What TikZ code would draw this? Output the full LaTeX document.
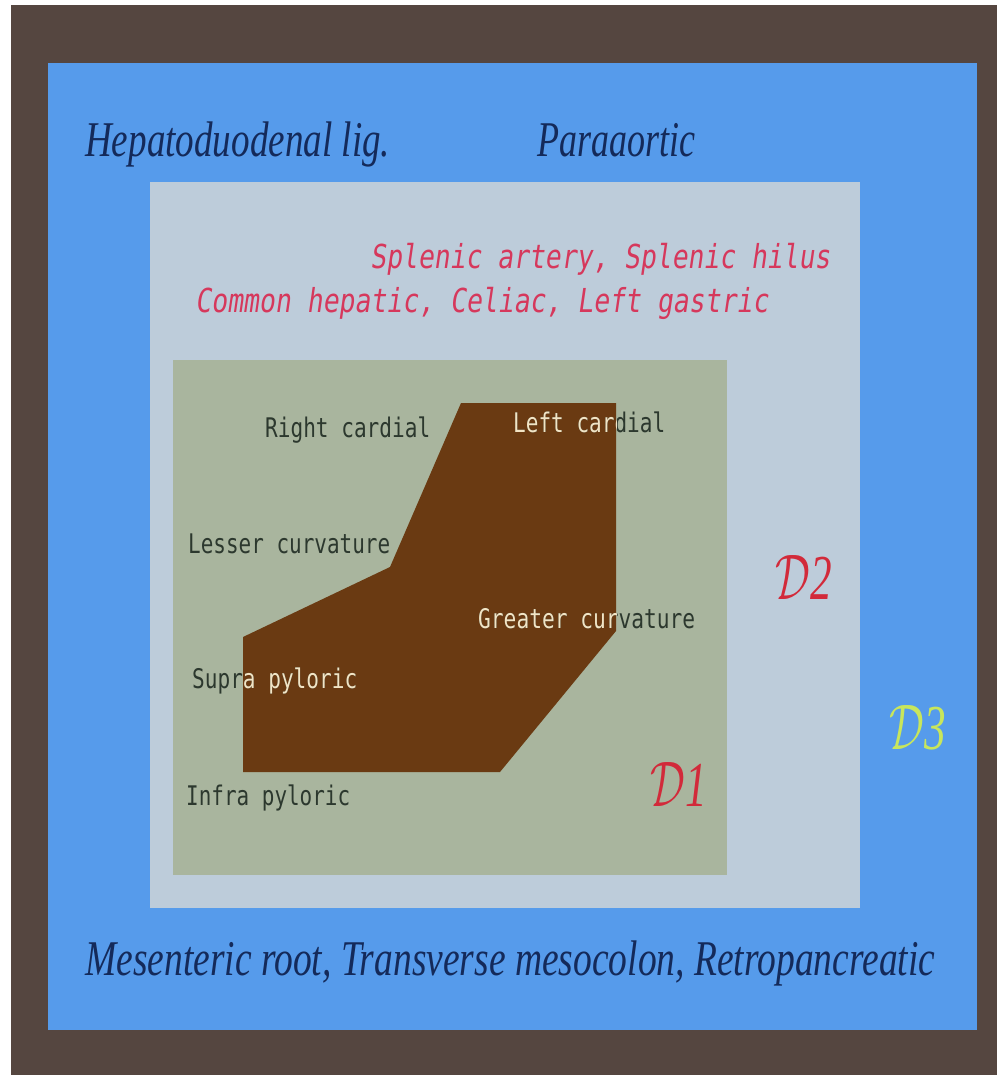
\documentclass[tikz,border=0pt]{standalone}
\usepackage{fontspec}
\usepackage{graphicx}
\setmainfont{Liberation Serif}
\newfontfamily\labfont{DejaVu Sans Mono}
\newfontfamily\vesfont[FakeSlant=0.18]{DejaVu Sans Mono}
% set a text box to a given width (in pt) while keeping its natural height
\newcommand\fitto[2]{\resizebox{#1pt}{\height}{#2}}
% calligraphic level letter followed by its number
\newcommand\lvl[1]{\fitto{57}{\resizebox{!}{44pt}{$\mathcal{D}$}\kern1pt\textit{#1}}}

\definecolor{frame}{HTML}{554640}
\definecolor{zoneDthree}{HTML}{569BEB}
\definecolor{zoneDtwo}{HTML}{BDCCDA}
\definecolor{zoneDone}{HTML}{A9B59E}
\definecolor{stomach}{HTML}{6A3A12}
\definecolor{navy}{HTML}{142A5A}
\definecolor{vessel}{HTML}{D6385C}
\definecolor{darklab}{HTML}{2C382E}
\definecolor{creamlab}{HTML}{F3E4C4}
\definecolor{dred}{HTML}{D22A3A}
\definecolor{dgreen}{HTML}{C8E65C}

\tikzset{
  region/.style={inner sep=0pt, anchor=base west, text=navy,
    font=\fontsize{50}{56}\selectfont\itshape},
  vessels/.style={inner sep=0pt, anchor=base west, text=vessel,
    font=\fontsize{33}{38}\selectfont\vesfont},
  station/.style={inner sep=0pt, anchor=base west, text=darklab,
    font=\fontsize{27}{31}\selectfont\labfont},
  onstomach/.style={station, text=creamlab},
  level/.style={inner sep=0pt, anchor=base,
    font=\fontsize{64}{70}\selectfont}
}

\begin{document}
\begin{tikzpicture}[x=1pt,y=-1pt]
\useasboundingbox (0,0) rectangle (997,1075);
\fill[white] (0,0) rectangle (997,1075);
\fill[frame] (11,5) rectangle (997,1075);

% nested dissection levels
\fill[zoneDthree] (48,63) rectangle (977,1030);
\fill[zoneDtwo] (150,182) rectangle (860,908);
\fill[zoneDone] (173,360) rectangle (727,875);

% stomach outline
\coordinate (s1) at (461,403);
\coordinate (s2) at (616,403);
\coordinate (s3) at (616,631);
\coordinate (s4) at (500,772);
\coordinate (s5) at (243,772);
\coordinate (s6) at (243,637);
\coordinate (s7) at (390,567);
\fill[stomach] (s1) -- (s2) -- (s3) -- (s4) -- (s5) -- (s6) -- (s7) -- cycle;

% D3 stations
\node[region] (hep) at (85,157) {\fitto{305}{Hepatoduodenal lig.}};
\node[region] (para) at (537,157) {\fitto{158}{Paraaortic}};
\node[region] (mes) at (85,975) {\fitto{850}{Mesenteric root, Transverse mesocolon, Retropancreatic}};

% D2 stations
\node[vessels] (spl) at (370,268) {\fitto{460}{Splenic artery, Splenic hilus}};
\node[vessels] (cel) at (195,312) {\fitto{573}{Common hepatic, Celiac, Left gastric}};

% perigastric stations
\node[station] (rc) at (265,437) {\fitto{165}{Right cardial}};
\node[station] (lc) at (513,432) {\fitto{152}{Left cardial}};
\node[station] (lesc) at (188,553) {\fitto{202}{Lesser curvature}};
\node[station] (grc) at (478,628) {\fitto{217}{Greater curvature}};
\node[station] (sup) at (192,688) {\fitto{165}{Supra pyloric}};
\node[station] (inf) at (186,805) {\fitto{164}{Infra pyloric}};

% the part of each label lying on the stomach is light
\begin{scope}
  \clip (s1) -- (s2) -- (s3) -- (s4) -- (s5) -- (s6) -- (s7) -- cycle;
  \node[onstomach] (lcL) at (513,432) {\fitto{152}{Left cardial}};
  \node[onstomach] (grcL) at (478,628) {\fitto{217}{Greater curvature}};
  \node[onstomach] (supL) at (192,688) {\fitto{165}{Supra pyloric}};
\end{scope}

% level names
\node[level, text=dred] (d1) at (679,806) {\lvl{1}};
\node[level, text=dred] (d2) at (804,599) {\lvl{2}};
\node[level, text=dgreen] (d3) at (918,749) {\lvl{3}};
\end{tikzpicture}
\end{document}
